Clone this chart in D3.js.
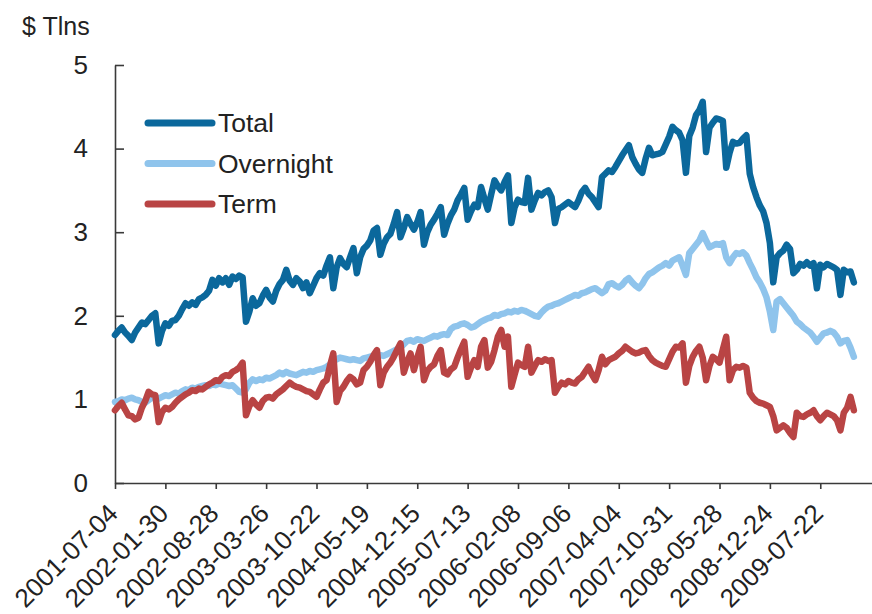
<!DOCTYPE html>
<html>
<head>
<meta charset="utf-8">
<script src="https://cdn.jsdelivr.net/npm/d3@7"></script>
<style>
  body { margin: 0; background: #fff; }
  svg text { font-family: "Liberation Sans", Arial, sans-serif; fill: #222; }
  .axis path, .axis line { stroke: #3a3a3a; stroke-width: 1.6; }
</style>
</head>
<body>
<div class="svg-container"></div>
<script>
// biweekly readings, first point 2001-07-04
const startDate = '2001-07-04'
const stepDays = 14
const axisEnd = '2010-03-03'

const tickLabels = ['2001-07-04', '2002-01-30', '2002-08-28', '2003-03-26', '2003-10-22',
  '2004-05-19', '2004-12-15', '2005-07-13', '2006-02-08', '2006-09-06', '2007-04-04',
  '2007-10-31', '2008-05-28', '2008-12-24', '2009-07-22']
const yTicks = [0, 1, 2, 3, 4, 5]
const seriesNames = ['Total', 'Overnight', 'Term']
const yTitle = '$ Tlns'

const total = [
  1.77,1.82,1.86,1.80,1.76,1.71,1.80,1.86,1.92,1.90,
  1.95,2.00,2.03,1.67,1.82,1.91,1.88,1.94,1.95,2.00,
  2.08,2.15,2.12,2.16,2.13,2.20,2.22,2.25,2.30,2.43,
  2.36,2.45,2.40,2.45,2.37,2.47,2.44,2.48,2.46,1.93,
  2.05,2.21,2.12,2.15,2.24,2.31,2.22,2.17,2.30,2.38,
  2.43,2.55,2.42,2.37,2.45,2.41,2.33,2.40,2.27,2.36,
  2.45,2.51,2.48,2.60,2.70,2.33,2.58,2.69,2.62,2.58,
  2.70,2.81,2.51,2.70,2.80,2.84,2.90,3.02,3.05,2.73,
  2.86,2.94,2.98,3.10,3.24,2.94,3.05,3.18,3.10,3.03,
  3.12,3.24,2.85,3.00,3.09,3.15,3.22,3.30,2.97,3.10,
  3.20,3.27,3.38,3.45,3.53,3.15,3.25,3.33,3.30,3.54,
  3.40,3.27,3.45,3.62,3.55,3.50,3.60,3.68,3.11,3.30,
  3.39,3.36,3.35,3.65,3.27,3.38,3.47,3.44,3.48,3.50,
  3.42,3.11,3.28,3.30,3.33,3.36,3.33,3.30,3.38,3.48,
  3.53,3.46,3.42,3.36,3.30,3.66,3.70,3.74,3.72,3.78,
  3.85,3.92,3.98,4.04,3.90,3.82,3.75,3.71,3.88,4.01,
  3.92,3.93,3.94,3.96,4.05,4.14,4.26,4.22,4.19,4.10,
  3.71,4.15,4.25,4.40,4.46,4.56,3.96,4.25,4.31,4.36,
  4.35,4.33,3.77,3.95,4.08,4.06,4.07,4.12,4.16,3.70,
  3.54,3.42,3.32,3.25,3.11,2.87,2.40,2.70,2.75,2.78,
  2.85,2.80,2.51,2.55,2.62,2.60,2.64,2.60,2.63,2.33,
  2.61,2.58,2.62,2.60,2.58,2.55,2.25,2.55,2.52,2.53,2.40
]

const overnight = [
  0.97,0.98,1.00,0.99,1.01,1.02,1.00,0.99,0.97,0.96,
  0.99,1.02,1.03,1.01,1.03,1.05,1.04,1.06,1.08,1.07,
  1.10,1.12,1.11,1.14,1.13,1.15,1.16,1.17,1.16,1.18,
  1.17,1.19,1.18,1.17,1.16,1.17,1.13,1.09,1.08,1.12,
  1.20,1.24,1.22,1.24,1.23,1.26,1.25,1.27,1.29,1.32,
  1.30,1.33,1.31,1.30,1.29,1.31,1.33,1.32,1.34,1.33,
  1.35,1.36,1.37,1.39,1.42,1.46,1.48,1.50,1.49,1.48,
  1.47,1.48,1.47,1.46,1.49,1.50,1.51,1.52,1.51,1.53,
  1.52,1.54,1.56,1.58,1.60,1.62,1.66,1.70,1.71,1.69,
  1.72,1.71,1.70,1.72,1.74,1.76,1.75,1.77,1.78,1.77,
  1.84,1.87,1.88,1.90,1.91,1.89,1.86,1.87,1.90,1.93,
  1.95,1.97,1.98,2.01,2.00,2.02,2.03,2.05,2.04,2.06,
  2.05,2.07,2.06,2.04,2.02,2.00,1.99,2.04,2.08,2.11,
  2.12,2.14,2.15,2.17,2.19,2.21,2.23,2.25,2.24,2.27,
  2.28,2.30,2.32,2.33,2.30,2.27,2.30,2.38,2.39,2.36,
  2.34,2.37,2.42,2.45,2.40,2.36,2.33,2.38,2.45,2.50,
  2.52,2.55,2.58,2.60,2.63,2.60,2.66,2.68,2.70,2.60,
  2.49,2.75,2.80,2.85,2.90,2.99,2.90,2.82,2.84,2.86,
  2.85,2.87,2.70,2.63,2.70,2.75,2.74,2.76,2.72,2.63,
  2.55,2.46,2.40,2.32,2.22,2.05,1.83,2.17,2.20,2.15,
  2.10,2.05,2.00,1.93,1.90,1.86,1.83,1.80,1.75,1.69,
  1.74,1.79,1.80,1.82,1.80,1.75,1.67,1.70,1.71,1.62,1.51
]

const term = [
  0.87,0.92,0.96,0.88,0.81,0.80,0.76,0.78,0.90,0.98,
  1.09,1.06,1.05,0.73,0.85,0.90,0.88,0.91,0.96,1.00,
  1.03,1.06,1.08,1.11,1.10,1.13,1.12,1.15,1.18,1.20,
  1.23,1.22,1.27,1.29,1.28,1.33,1.35,1.38,1.44,0.81,
  0.92,0.99,0.94,0.90,0.98,1.02,1.03,1.01,1.06,1.09,
  1.12,1.16,1.20,1.17,1.15,1.14,1.12,1.10,1.09,1.06,
  1.03,1.12,1.20,1.23,1.40,1.55,0.97,1.10,1.15,1.22,
  1.27,1.24,1.18,1.20,1.35,1.39,1.45,1.53,1.59,1.17,
  1.32,1.39,1.44,1.51,1.59,1.67,1.32,1.45,1.55,1.35,
  1.50,1.63,1.23,1.34,1.39,1.42,1.52,1.59,1.32,1.30,
  1.36,1.39,1.50,1.60,1.69,1.27,1.38,1.47,1.39,1.63,
  1.71,1.38,1.45,1.59,1.75,1.83,1.63,1.75,1.15,1.30,
  1.44,1.41,1.39,1.63,1.32,1.40,1.47,1.45,1.48,1.46,
  1.47,1.08,1.15,1.20,1.18,1.22,1.20,1.19,1.24,1.27,
  1.33,1.39,1.30,1.23,1.35,1.51,1.42,1.47,1.49,1.51,
  1.55,1.58,1.63,1.60,1.57,1.55,1.56,1.58,1.59,1.52,
  1.47,1.44,1.42,1.40,1.39,1.48,1.57,1.63,1.62,1.67,
  1.20,1.40,1.51,1.58,1.63,1.50,1.23,1.40,1.51,1.48,
  1.44,1.60,1.75,1.23,1.35,1.39,1.38,1.40,1.38,1.08,
  1.02,0.98,0.96,0.95,0.93,0.91,0.80,0.63,0.66,0.69,
  0.66,0.60,0.55,0.84,0.80,0.79,0.82,0.84,0.87,0.80,
  0.75,0.80,0.84,0.82,0.80,0.75,0.63,0.84,0.90,1.03,0.87
]

function drawChart () {
  let width = 872
  let height = 614
  let paddingLeft = 115
  let plotRight = 874
  let plotTop = 65
  let plotBottom = 483

  let parseDate = d3.utcParse('%Y-%m-%d')
  let start = parseDate(startDate)
  let dates = total.map((d, i) => d3.utcDay.offset(start, i * stepDays))

  let xScale = d3.scaleUtc()
    .domain([start, parseDate(axisEnd)])
    .range([paddingLeft, plotRight])

  let yScale = d3.scaleLinear()
    .domain([0, 5])
    .range([plotBottom, plotTop])

  let colors = ['#0b689c', '#8fc4ec', '#b94444']
  let series = [total, overnight, term].map((values, i) => ({
    name: seriesNames[i],
    values: values,
    color: colors[i]
  }))

  let svg = d3.select('.svg-container')
    .append('svg')
    .attr('width', width)
    .attr('height', height)

  svg.append('text')
    .attr('x', 22)
    .attr('y', 35)
    .attr('font-size', 25)
    .text(yTitle)

  let yAxis = d3.axisLeft(yScale)
    .tickValues(yTicks)
    .tickSize(-9)
    .tickSizeOuter(0)
    .tickPadding(27)
    .tickFormat(d3.format('d'))

  svg.append('g')
    .attr('class', 'axis')
    .attr('transform', `translate(${paddingLeft}, 0)`)
    .call(yAxis)
    .attr('font-size', 26)
    .attr('font-family', null)

  let xAxis = d3.axisBottom(xScale)
    .tickValues(tickLabels.map(parseDate))
    .tickSize(6)
    .tickSizeOuter(0)
    .tickFormat(d3.utcFormat('%Y-%m-%d'))

  let xg = svg.append('g')
    .attr('class', 'axis')
    .attr('transform', `translate(0, ${plotBottom})`)
    .call(xAxis)
    .attr('font-size', 26)
    .attr('font-family', null)

  xg.selectAll('.tick text')
    .attr('x', 0)
    .attr('y', 0)
    .attr('dy', 0)
    .attr('transform', 'translate(4, 32) rotate(-45)')
    .style('text-anchor', 'end')

  let line = d3.line()
    .x((d, i) => xScale(dates[i]))
    .y(d => yScale(d))

  svg.selectAll('.series')
    .data(series)
    .enter()
    .append('path')
    .attr('class', 'series')
    .attr('d', d => line(d.values))
    .attr('fill', 'none')
    .attr('stroke', d => d.color)
    .attr('stroke-width', 6.5)
    .attr('stroke-linejoin', 'round')
    .attr('stroke-linecap', 'round')

  // legend
  let legend = svg.selectAll('.legend')
    .data(series)
    .enter()
    .append('g')
    .attr('class', 'legend')
    .attr('transform', (d, i) => `translate(148, ${123 + i * 40.5})`)

  legend.append('line')
    .attr('x1', 0)
    .attr('x2', 64)
    .attr('stroke', d => d.color)
    .attr('stroke-width', 7)
    .attr('stroke-linecap', 'round')

  legend.append('text')
    .attr('x', 70)
    .attr('y', 9)
    .attr('font-size', 26.5)
    .text(d => d.name)
}

drawChart()
</script>
</body>
</html>
